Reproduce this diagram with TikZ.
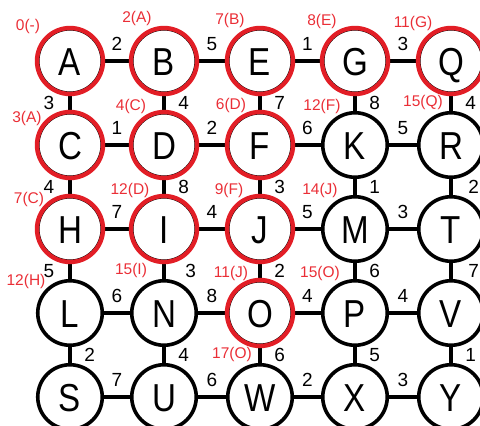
\documentclass[tikz,border=0pt]{standalone}
\usepackage{graphicx}
\usepackage{fontspec}
\setmainfont{Liberation Sans}
\definecolor{ringred}{RGB}{226,30,38}
\definecolor{labred}{RGB}{234,46,54}
\newcommand\narrowletter[1]{\scalebox{0.85}[1]{#1}}
\begin{document}
\begin{tikzpicture}[x=1pt,y=-1pt,
  vtx/.style={circle, draw=black, line width=3.6pt, minimum size=64.5pt, inner sep=0pt,
    fill=white, font=\fontsize{39}{39}\selectfont, text height=28pt, text depth=0pt},
  edge/.style={line width=3.6pt, draw=black},
  hl/.style={above=8.5pt, inner sep=0pt, font=\fontsize{19}{19}\selectfont},
  vr/.style={right=12.5pt, inner sep=0pt, font=\fontsize{19}{19}\selectfont},
  vl/.style={left=14pt, inner sep=0pt, font=\fontsize{19}{19}\selectfont},
  rl/.style={text=labred, inner sep=0pt, font=\fontsize{15.5}{15.5}\selectfont},
  ring/.style={draw=ringred, line width=4.4pt}]
\useasboundingbox (0,0) rectangle (480,426);

% vertices
\foreach \n/\x/\y in {A/70/61,B/164/61,E/260/61,G/355/61,Q/451/61,
                      C/70/145,D/164/145,F/260/145,K/355/145,R/451/145,
                      H/70/229,I/164/229,J/260/229,M/355/229,T/451/229,
                      L/70/313,N/164/313,O/260/313,P/355/313,V/451/313,
                      S/70/397,U/164/397,W/260/397,X/355/397,Y/451/397}
  \node[vtx] (\n) at (\x,\y) {\narrowletter{\n}};

% horizontal edges
\draw[edge] (A) -- node[hl]{2} (B);
\draw[edge] (B) -- node[hl]{5} (E);
\draw[edge] (E) -- node[hl]{1} (G);
\draw[edge] (G) -- node[hl]{3} (Q);
\draw[edge] (C) -- node[hl]{1} (D);
\draw[edge] (D) -- node[hl]{2} (F);
\draw[edge] (F) -- node[hl]{6} (K);
\draw[edge] (K) -- node[hl]{5} (R);
\draw[edge] (H) -- node[hl]{7} (I);
\draw[edge] (I) -- node[hl]{4} (J);
\draw[edge] (J) -- node[hl]{5} (M);
\draw[edge] (M) -- node[hl]{3} (T);
\draw[edge] (L) -- node[hl]{6} (N);
\draw[edge] (N) -- node[hl]{8} (O);
\draw[edge] (O) -- node[hl]{4} (P);
\draw[edge] (P) -- node[hl]{4} (V);
\draw[edge] (S) -- node[hl]{7} (U);
\draw[edge] (U) -- node[hl]{6} (W);
\draw[edge] (W) -- node[hl]{2} (X);
\draw[edge] (X) -- node[hl]{3} (Y);

% vertical edges
\draw[edge] (A) -- node[vl]{3} (C);
\draw[edge] (B) -- node[vr]{4} (D);
\draw[edge] (E) -- node[vr]{7} (F);
\draw[edge] (G) -- node[vr]{8} (K);
\draw[edge] (Q) -- node[vr]{4} (R);
\draw[edge] (C) -- node[vl]{4} (H);
\draw[edge] (D) -- node[vr]{8} (I);
\draw[edge] (F) -- node[vr]{3} (J);
\draw[edge] (K) -- node[vr]{1} (M);
\draw[edge] (R) -- node[vr, xshift=3pt]{2} (T);
\draw[edge] (H) -- node[vl]{5} (L);
\draw[edge] (I) -- node[vr, xshift=7pt]{3} (N);
\draw[edge] (J) -- node[vr]{2} (O);
\draw[edge] (M) -- node[vr]{6} (P);
\draw[edge] (T) -- node[vr, xshift=3pt]{7} (V);
\draw[edge] (L) -- node[vr]{2} (S);
\draw[edge] (N) -- node[vr]{4} (U);
\draw[edge] (O) -- node[vr]{6} (W);
\draw[edge] (P) -- node[vr]{5} (X);
\draw[edge] (V) -- node[vr]{1} (Y);

% visited (red) rings
\foreach \n in {A,B,E,G,Q,C,D,F,H,I,J,O}
  \draw[ring] (\n.center) circle[radius=33pt];

% red distance labels
\node[rl] (dA) at (28,26) {0(-)};
\node[rl] (dB) at (137,18) {2(A)};
\node[rl] (dE) at (230,20) {7(B)};
\node[rl] (dG) at (322,21) {8(E)};
\node[rl] (dQ) at (413,23) {11(G)};
\node[rl] (dC) at (27,118) {3(A)};
\node[rl] (dD) at (131,106) {4(C)};
\node[rl] (dF) at (231,105) {6(D)};
\node[rl] (dK) at (322,106) {12(F)};
\node[rl] (dR) at (423,102) {15(Q)};
\node[rl] (dH) at (29,199) {7(C)};
\node[rl] (dI) at (130,190) {12(D)};
\node[rl] (dJ) at (229,190) {9(F)};
\node[rl] (dM) at (320,190) {14(J)};
\node[rl] (dL) at (26,281) {12(H)};
\node[rl] (dN) at (131,270) {15(I)};
\node[rl] (dO) at (231,273) {11(J)};
\node[rl] (dP) at (320,273) {15(O)};
\node[rl] (dW) at (232,354) {17(O)};
\end{tikzpicture}
\end{document}
